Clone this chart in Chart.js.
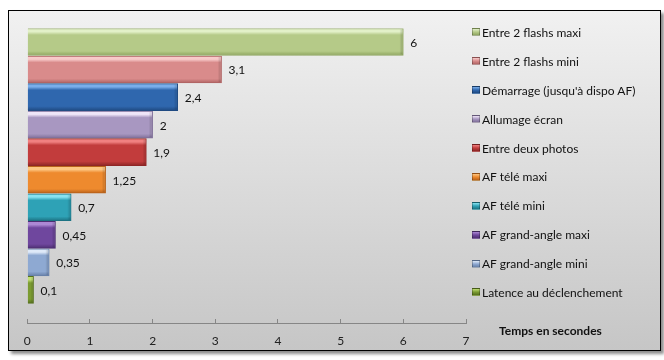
<!DOCTYPE html>
<html>
<head>
<meta charset="utf-8">
<script src="https://cdn.jsdelivr.net/npm/chart.js@4.4.1/dist/chart.umd.min.js"></script>
<style>
body { margin: 0; background: #fff; font-family: Lato, sans-serif; }
#frame {
    position: absolute; left: 8px; top: 10px; width: 651px; height: 339px;
    border: 1px solid #000;
    background: linear-gradient(to bottom, #f1f1f1, #c6c6c6);
    box-shadow: 3px 3px 3px rgba(0, 0, 0, 0.45);
}
#chartBox { position: absolute; left: 0; top: 0; width: 651px; height: 339px; }
#legend { position: absolute; left: 463px; top: 7px; margin: 0; padding: 0; list-style: none; }
#legend li { height: 28.9px; display: flex; align-items: center; font-size: 12px; color: #111; white-space: nowrap; }
#legend .sw { width: 6px; height: 6px; margin-right: 2px; border: 1px solid rgba(0,0,0,0.25); }
#axisTitle { position: absolute; left: 490px; top: 312px; line-height: 16px; font-size: 12px; font-weight: bold; color: #111; }
</style>
</head>
<body>
<div id="frame">
    <div id="chartBox"><canvas id="latencyChart"></canvas></div>
    <ul id="legend"></ul>
    <div id="axisTitle"></div>
</div>
<script>
// Chart data
const categories = [
    'Entre 2 flashs maxi',
    'Entre 2 flashs mini',
    "Démarrage (jusqu'à dispo AF)",
    'Allumage écran',
    'Entre deux photos',
    'AF télé maxi',
    'AF télé mini',
    'AF grand-angle maxi',
    'AF grand-angle mini',
    'Latence au déclenchement'
];
const seconds = [6, 3.1, 2.4, 2, 1.9, 1.25, 0.7, 0.45, 0.35, 0.1];
const xTicks = [0, 1, 2, 3, 4, 5, 6, 7];
const axisTitle = 'Temps en secondes';

// Bar colours: highlight, body, shade
const highlights = ['#e2f0c8', '#f8caca', '#7aaeea', '#efe5f8', '#f08080', '#fdc682', '#88e2f0', '#ac88d4', '#dee9f8', '#c0de74'];
const bodies     = ['#b5ca88', '#d98b8b', '#2f67ae', '#a897c1', '#c23c3c', '#ee8a2e', '#2ea2b6', '#6f479e', '#8ea9d2', '#7b9b31'];
const shades     = ['#8ea55f', '#b06464', '#1f4a82', '#7f6f99', '#8e2626', '#b9621a', '#1c7383', '#4d2f72', '#6780a8', '#56701e'];

const fmt = v => String(v).replace('.', ',');

// Legend
const legendList = document.getElementById('legend');
categories.forEach((name, i) => {
    const li = document.createElement('li');
    const sw = document.createElement('span');
    sw.className = 'sw';
    sw.style.background = `linear-gradient(to bottom, ${highlights[i]}, ${bodies[i]} 50%, ${shades[i]})`;
    li.appendChild(sw);
    li.appendChild(document.createTextNode(name));
    legendList.appendChild(li);
});
document.getElementById('axisTitle').innerText = axisTitle;

// Bar fill with a bevel-like vertical gradient
function barFill(context) {
    const chart = context.chart;
    const i = context.dataIndex;
    if (!chart.chartArea || !chart.scales.y) return bodies[i];
    const yc = chart.scales.y.getPixelForValue(i);
    const g = chart.ctx.createLinearGradient(0, yc - 13.5, 0, yc + 13.5);
    g.addColorStop(0, highlights[i]);
    g.addColorStop(0.12, highlights[i]);
    g.addColorStop(0.24, bodies[i]);
    g.addColorStop(0.84, bodies[i]);
    g.addColorStop(1, shades[i]);
    return g;
}

// Darker bevel at the end of each bar, then the value labels
const barDecor = {
    id: 'barDecor',
    afterDatasetsDraw(chart) {
        const ctx = chart.ctx;
        const meta = chart.getDatasetMeta(0);
        ctx.save();
        meta.data.forEach((bar) => {
            const h = bar.height;
            const w = Math.min(4, (bar.x - bar.base) / 2);
            const g = ctx.createLinearGradient(bar.x - w, 0, bar.x, 0);
            g.addColorStop(0, 'rgba(0,0,0,0)');
            g.addColorStop(1, 'rgba(0,0,0,0.22)');
            ctx.fillStyle = g;
            ctx.fillRect(bar.x - w, bar.y - h / 2 + 1, w - 1, h - 2);
        });
        ctx.font = '12px Lato, sans-serif';
        ctx.fillStyle = '#111';
        ctx.textAlign = 'left';
        ctx.textBaseline = 'middle';
        meta.data.forEach((bar, i) => {
            ctx.fillText(fmt(seconds[i]), bar.x + 7, bar.y + 1);
        });
        ctx.restore();
    }
};

const ctx = document.getElementById('latencyChart').getContext('2d');
new Chart(ctx, {
    type: 'bar',
    data: {
        datasets: [{
            label: axisTitle,
            data: categories.map((c, i) => ({ x: seconds[i], y: i })),
            backgroundColor: barFill,
            borderColor: shades,
            borderWidth: 1,
            borderSkipped: 'left',
            barThickness: 27
        }]
    },
    options: {
        indexAxis: 'y',
        responsive: true,
        maintainAspectRatio: false,
        animation: false,
        layout: { padding: { left: 17.7, right: 194, top: 17.2, bottom: 0 } },
        scales: {
            x: {
                type: 'linear',
                min: xTicks[0],
                max: xTicks[xTicks.length - 1],
                afterFit: scale => { scale.height = 27; },
                ticks: {
                    stepSize: 1,
                    padding: 14.8,
                    color: '#222',
                    font: { family: 'Lato', size: 12 }
                },
                grid: { drawOnChartArea: false, drawTicks: true, tickLength: -4, color: '#868686' },
                border: { color: '#868686' }
            },
            y: {
                type: 'linear',
                offset: false,
                grace: 0,
                min: -0.5,
                max: 10.2,
                reverse: true,
                display: false
            }
        },
        plugins: {
            legend: { display: false },
            tooltip: { enabled: false }
        }
    },
    plugins: [barDecor]
});
</script>
</body>
</html>
